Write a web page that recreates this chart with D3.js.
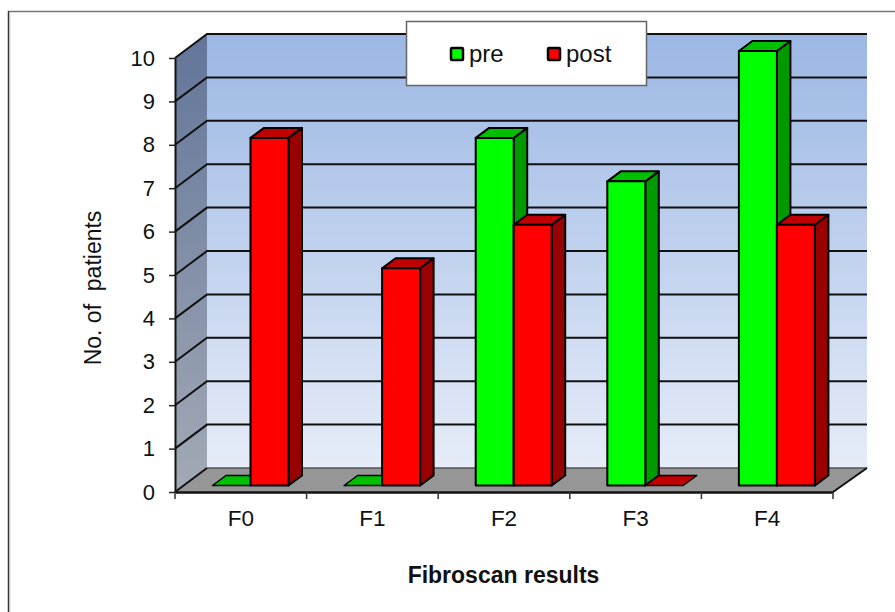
<!DOCTYPE html>
<html>
<head>
<meta charset="utf-8">
<script src="https://cdn.jsdelivr.net/npm/d3@7"></script>
<style>
  html, body { margin: 0; padding: 0; background: #fff; }
  svg { display: block; }
  text { font-family: "Liberation Sans", Arial, sans-serif; fill: #111; }
</style>
</head>
<body>
<svg id="viz" width="895" height="612"></svg>
<script>
const categories = ["F0", "F1", "F2", "F3", "F4"];
const seriesNames = ["pre", "post"];
const preValues = [0, 0, 8, 7, 10];
const postValues = [8, 5, 6, 0, 6];
const yTicks = [0, 1, 2, 3, 4, 5, 6, 7, 8, 9, 10];
const xTitle = "Fibroscan results";
const yTitle = "No. of\u00a0\u00a0patients";

const colors = {
  pre:  { front: "#00ff00", top: "#00c000", side: "#009900" },
  post: { front: "#ff0000", top: "#c00000", side: "#990000" }
};

const svg = d3.select("#viz");

// --- Scales ---
const yFront = d3.scaleLinear().domain([0, 10]).range([492, 58]);
const yBack  = d3.scaleLinear().domain([0, 10]).range([468, 34]);
const yBar   = d3.scaleLinear().domain([0, 10]).range([485.5, 51]);
const x = d3.scaleBand().domain(categories).range([175, 833]);
const xInner = d3.scaleBand().domain(seriesNames).range([37.5, 113.5]);

const wallDx = 32;
const barDx = 13.5, barDy = 10;
const xBackLeft = x.range()[0] + wallDx;
const xBackRight = 867;

// --- Gradients ---
const defs = svg.append("defs");
function vGrad(id, c0, c1) {
  const g = defs.append("linearGradient").attr("id", id)
    .attr("x1", 0).attr("y1", 0).attr("x2", 0).attr("y2", 1);
  g.append("stop").attr("offset", 0).attr("stop-color", c0);
  g.append("stop").attr("offset", 1).attr("stop-color", c1);
}
vGrad("wallGrad", "#9bb7e4", "#e6ecf8");
vGrad("sideGrad", "#627599", "#a3aab6");

// --- Chart area border (runs off the right and bottom of the picture) ---
svg.append("line").attr("x1", 8).attr("x2", 895).attr("y1", 11.5).attr("y2", 11.5)
  .attr("stroke", "#777").attr("stroke-width", 1.5);
svg.append("line").attr("x1", 8.5).attr("x2", 8.5).attr("y1", 11).attr("y2", 612)
  .attr("stroke", "#333").attr("stroke-width", 1.5);
svg.append("line").attr("x1", 9.8).attr("x2", 9.8).attr("y1", 12).attr("y2", 612)
  .attr("stroke", "#c4c4c4").attr("stroke-width", 1);

// --- Walls and floor ---
const pts = a => a.map(p => p.join(",")).join(" ");
const wallsG = svg.append("g");
wallsG.append("rect")
  .attr("x", xBackLeft).attr("y", yBack(10))
  .attr("width", xBackRight - xBackLeft).attr("height", yBack(0) - yBack(10))
  .attr("fill", "url(#wallGrad)");
wallsG.append("polygon")
  .attr("points", pts([[x.range()[0], yFront(10)], [xBackLeft, yBack(10)], [xBackLeft, yBack(0)], [x.range()[0], yFront(0)]]))
  .attr("fill", "url(#sideGrad)");
wallsG.append("polygon")
  .attr("points", pts([[x.range()[0], yFront(0)], [x.range()[1], yFront(0)], [xBackRight, yBack(0)], [xBackLeft, yBack(0)]]))
  .attr("fill", "#969696");
wallsG.append("line")
  .attr("x1", xBackLeft).attr("x2", xBackRight).attr("y1", yBack(0)).attr("y2", yBack(0))
  .attr("stroke", "#555").attr("stroke-width", 1.5);

// --- Gridlines ---
const gridG = svg.append("g");
gridG.selectAll("polyline").data(yTicks.filter(d => d > 0)).join("polyline")
  .attr("points", d => pts([[x.range()[0], yFront(d)], [xBackLeft, yBack(d)], [xBackRight, yBack(d)]]))
  .attr("fill", "none").attr("stroke", "#111").attr("stroke-width", 2);
gridG.append("line")
  .attr("x1", x.range()[0]).attr("y1", yFront(0)).attr("x2", xBackLeft).attr("y2", yBack(0))
  .attr("stroke", "#111").attr("stroke-width", 2);
gridG.append("line")
  .attr("x1", x.range()[1]).attr("y1", yFront(0)).attr("x2", xBackRight).attr("y2", yBack(0))
  .attr("stroke", "#111").attr("stroke-width", 2);

// --- Axes ---
const yAxisG = svg.append("g")
  .attr("transform", `translate(${x.range()[0]},0)`)
  .call(d3.axisLeft(yFront).tickValues(yTicks).tickSize(6).tickPadding(14).tickSizeOuter(0));
yAxisG.select(".domain").attr("stroke", "#111").attr("stroke-width", 2);
yAxisG.selectAll("line").attr("stroke", "#222").attr("stroke-width", 1.5);
yAxisG.selectAll("text").attr("font-size", 22).attr("font-family", "Liberation Sans").attr("fill", "#111");

const xAxisG = svg.append("g")
  .attr("transform", `translate(0,${yFront(0)})`)
  .call(d3.axisBottom(x).tickSize(0).tickPadding(18));
xAxisG.select(".domain").attr("stroke", "#111").attr("stroke-width", 2.5);
xAxisG.selectAll("text").attr("font-size", 22.5).attr("font-family", "Liberation Sans").attr("fill", "#111");
// tick marks sit between the categories
const xEdges = categories.map(c => x(c)).concat([x.range()[1]]);
xAxisG.selectAll(".edge").data(xEdges).join("line").attr("class", "edge")
  .attr("x1", d => d).attr("x2", d => d).attr("y1", 0).attr("y2", 7)
  .attr("stroke", "#333").attr("stroke-width", 1.5);

// --- Bars ---
const barsG = svg.append("g");
const seriesValues = { pre: preValues, post: postValues };
categories.forEach((cat, i) => {
  seriesNames.forEach(name => {
    const v = seriesValues[name][i];
    const x0 = x(cat) + xInner(name);
    const x1 = x0 + xInner.bandwidth();
    const y0 = yBar(0), yv = yBar(v);
    const g = barsG.append("g")
      .attr("stroke", "#000").attr("stroke-width", 2).attr("stroke-linejoin", "round");
    if (v > 0) {
      g.append("polygon")
        .attr("points", pts([[x1, yv], [x1 + barDx, yv - barDy], [x1 + barDx, y0 - barDy], [x1, y0]]))
        .attr("fill", colors[name].side);
    }
    g.append("polygon")
      .attr("points", pts([[x0, yv], [x1, yv], [x1 + barDx, yv - barDy], [x0 + barDx, yv - barDy]]))
      .attr("fill", colors[name].top)
      .attr("stroke-width", v > 0 ? 2 : 1.5);
    if (v > 0) {
      g.append("rect")
        .attr("x", x0).attr("y", yv)
        .attr("width", x1 - x0).attr("height", y0 - yv)
        .attr("fill", colors[name].front);
    }
  });
});

// --- Axis titles ---
svg.append("text")
  .attr("transform", "translate(101,288) rotate(-90)")
  .attr("text-anchor", "middle")
  .attr("font-size", 23)
  .text(yTitle);
svg.append("text")
  .attr("x", 503.5).attr("y", 583)
  .attr("text-anchor", "middle")
  .attr("font-size", 23).attr("font-weight", "bold")
  .text(xTitle);

// --- Legend ---
const legendG = svg.append("g");
legendG.append("rect")
  .attr("x", 406.5).attr("y", 21.5).attr("width", 240).attr("height", 64)
  .attr("fill", "#fff").attr("stroke", "#666").attr("stroke-width", 1.5);
const legendX = d3.scaleOrdinal().domain(seriesNames).range([451, 548]);
const legendItem = legendG.selectAll("g").data(seriesNames).join("g")
  .attr("transform", d => `translate(${legendX(d)},48)`);
legendItem.append("rect")
  .attr("width", 12).attr("height", 12).attr("rx", 1)
  .attr("fill", d => colors[d].front)
  .attr("stroke", "#000").attr("stroke-width", 2.5);
legendItem.append("text")
  .attr("x", 18).attr("y", 14)
  .attr("font-size", 24)
  .text(d => d);
</script>
</body>
</html>
